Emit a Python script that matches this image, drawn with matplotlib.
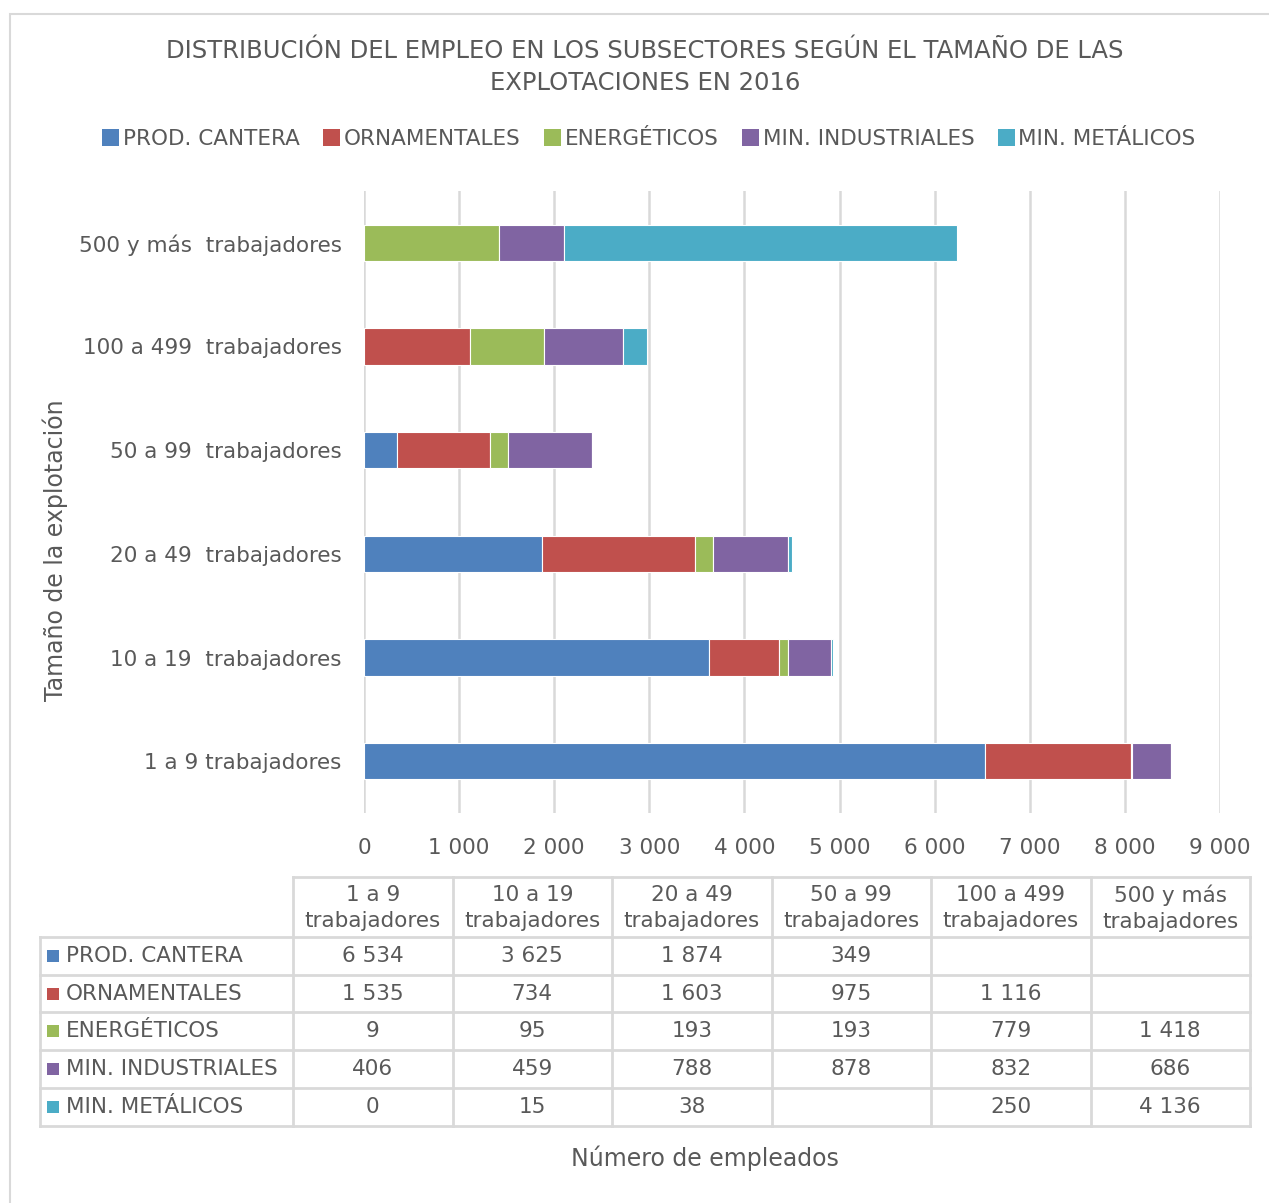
import numpy as np
import matplotlib
matplotlib.use("Agg")
import matplotlib.pyplot as plt
from matplotlib.patches import Rectangle, Patch

plt.rcParams['font.family'] = ['DejaVu Sans']

categories = ["1 a 9 trabajadores", "10 a 19  trabajadores", "20 a 49  trabajadores",
              "50 a 99  trabajadores", "100 a 499  trabajadores", "500 y más  trabajadores"]
table_headers = ["1 a 9\ntrabajadores", "10 a 19\ntrabajadores", "20 a 49\ntrabajadores",
                 "50 a 99\ntrabajadores", "100 a 499\ntrabajadores", "500 y más\ntrabajadores"]
series_names = ["PROD. CANTERA", "ORNAMENTALES", "ENERGÉTICOS", "MIN. INDUSTRIALES", "MIN. METÁLICOS"]
prod_cantera = [6534, 3625, 1874, 349, None, None]
ornamentales = [1535, 734, 1603, 975, 1116, None]
energeticos = [9, 95, 193, 193, 779, 1418]
min_industriales = [406, 459, 788, 878, 832, 686]
min_metalicos = [0, 15, 38, None, 250, 4136]
colors = ["#4F81BD", "#C0504D", "#9BBB59", "#8064A2", "#4BACC6"]
x_ticks = [0, 1000, 2000, 3000, 4000, 5000, 6000, 7000, 8000, 9000]

series = [prod_cantera, ornamentales, energeticos, min_industriales, min_metalicos]
TXT = "#595959"
GRID = "#D9D9D9"

W, H = 1269, 1203
fig = plt.figure(figsize=(W / 100, H / 100), dpi=100)

def fx(px):
    return px / W

def fy(py):
    return 1 - py / H

# outer border (right and bottom edges fall outside the image)
fig.patches.append(Rectangle((fx(10), fy(1208)), fx(1280) - fx(10), fy(14) - fy(1208),
                             transform=fig.transFigure, fill=False, edgecolor=GRID, lw=1.5))

# main axes
left, right, top, bottom = 364, 1220, 191, 813
ax = fig.add_axes([fx(left), fy(bottom), fx(right) - fx(left), fy(top) - fy(bottom)])
y = np.arange(len(categories))
cum = np.zeros(len(categories))
for name, vals, c in zip(series_names, series, colors):
    v = np.array([0 if a is None else a for a in vals], dtype=float)
    ax.barh(y, v, left=cum, height=0.35, color=c, edgecolor="white", linewidth=0.8,
            label=name, zorder=3)
    cum += v
ax.set_xlim(0, 9000)
ax.set_ylim(-0.5, len(categories) - 0.5)
ax.set_xticks(x_ticks)
ax.set_xticklabels([f"{t:,}".replace(",", " ") for t in x_ticks])
ax.set_yticks(y)
ax.set_yticklabels(categories)
ax.tick_params(axis="both", length=0, labelsize=15.5, colors=TXT)
ax.tick_params(axis="x", pad=18)
ax.tick_params(axis="y", pad=16)
ax.grid(axis="x", color=GRID, lw=1.8, zorder=0)
for s in ax.spines.values():
    s.set_visible(False)
ax.set_ylabel("Tamaño de la explotación", fontsize=17, color=TXT)
ax.yaxis.set_label_coords((68 - left) / (right - left), (bottom - 550) / (bottom - top))

# title
fig.text(fx(645), fy(67), "DISTRIBUCIÓN DEL EMPLEO EN LOS SUBSECTORES SEGÚN EL TAMAÑO DE LAS\nEXPLOTACIONES EN 2016",
         ha="center", va="center", fontsize=17.5, color=TXT, linespacing=1.4)

# legend
handles = [Patch(facecolor=c, edgecolor="none") for c in colors]
leg = fig.legend(handles, series_names, loc="center", bbox_to_anchor=(fx(649), fy(139)), ncol=5,
                 frameon=False, fontsize=15.5, handlelength=0.8, handleheight=0.8,
                 handletextpad=0.15, columnspacing=1.1, labelcolor=TXT)

# data table
tab = fig.add_axes([0, 0, 1, 1], zorder=-1)
tab.set_xlim(0, W)
tab.set_ylim(H, 0)
tab.axis("off")
lab_x0, col_x0, col_w = 40, 293, 159.5
row_y = [877, 937, 975, 1012, 1050, 1088, 1126]
ncol = len(table_headers)
x_end = col_x0 + ncol * col_w
lw = 2
tab.plot([col_x0, x_end], [row_y[0], row_y[0]], color=GRID, lw=lw)
for ry in row_y[1:]:
    tab.plot([lab_x0, x_end], [ry, ry], color=GRID, lw=lw)
tab.plot([lab_x0, lab_x0], [row_y[1], row_y[-1]], color=GRID, lw=lw)
for i in range(ncol + 1):
    xx = col_x0 + i * col_w
    tab.plot([xx, xx], [row_y[0], row_y[-1]], color=GRID, lw=lw)
for i, h in enumerate(table_headers):
    tab.text(col_x0 + (i + 0.5) * col_w, (row_y[0] + row_y[1]) / 2 + 1, h, ha="center", va="center",
             fontsize=15.5, color=TXT, linespacing=1.35)
for r, (name, vals, c) in enumerate(zip(series_names, series, colors)):
    yc = (row_y[r + 1] + row_y[r + 2]) / 2
    tab.add_patch(Rectangle((47, yc - 6), 12, 12, facecolor=c, edgecolor="none"))
    tab.text(66, yc, name, ha="left", va="center", fontsize=15.5, color=TXT)
    for i, v in enumerate(vals):
        if v is None:
            continue
        tab.text(col_x0 + (i + 0.5) * col_w, yc, f"{v:,}".replace(",", " "), ha="center", va="center",
                 fontsize=15.5, color=TXT)

fig.text(fx(705), fy(1158), "Número de empleados", ha="center", va="center", fontsize=17, color=TXT)

fig.savefig("out.png", dpi=100, facecolor="white")
